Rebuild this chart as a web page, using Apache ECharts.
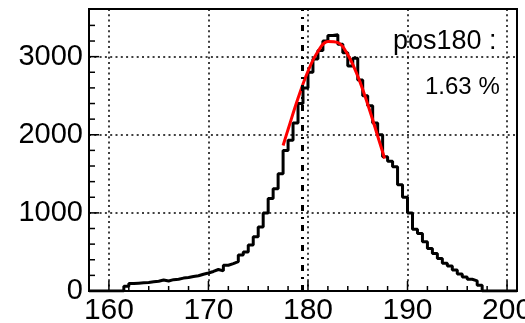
<!DOCTYPE html>
<html>
<head>
<meta charset="utf-8">
<script src="https://cdn.jsdelivr.net/npm/echarts@6/dist/echarts.min.js"></script>
<style>
html,body{margin:0;padding:0;background:#fff;}
#c{width:525px;height:323px;}
</style>
</head>
<body>
<div id="c"></div>
<script>
// Histogram: bins of width 0.5 starting at 161.5
var binStart = 161.5;
var binWidth = 0.5;
var counts = [
  60, 95, 100, 105, 110, 118, 125, 140, 128, 145,
  150, 165, 172, 185, 195, 215, 230, 250, 275, 258,
  330, 350, 375, 460, 500, 590, 695, 820, 1000, 1185,
  1310, 1500, 1800, 1930, 2150, 2400, 2600, 2800, 2970, 3080,
  3200, 3270, 3280, 3160, 3050, 2880, 2980, 2700, 2500, 2370,
  2150, 2000, 1720, 1660, 1590, 1360, 1200, 1000, 790, 735,
  630, 545, 480, 415, 355, 320, 268, 218, 178, 150,
  130, 75
];
// Red fit curve
var fitX = [177.5, 178, 179, 180, 181, 182, 183, 184, 185, 186, 187, 187.7];
var fitY = [1862, 2068, 2467, 2813, 3066, 3193, 3179, 3025, 2750, 2390, 1985, 1697];
// Axis ticks
var xMajor = [160, 170, 180, 190, 200];
var xMinor = [158, 162, 164, 166, 168, 172, 174, 176, 178, 182, 184, 186, 188, 192, 194, 196, 198];
var yMajor = [0, 1000, 2000, 3000];
var yMinor = [200, 400, 600, 800, 1200, 1400, 1600, 1800, 2200, 2400, 2600, 2800, 3200, 3400];
var xRange = [158, 201];
var yRange = [0, 3610];
var refLine = [179.4];
var textLines = ['pos180 :', '1.63 %'];

var histData = [[xRange[0], 0]];
for (var i = 0; i < counts.length; i++) {
  histData.push([binStart + i * binWidth, counts[i]]);
}
histData.push([binStart + counts.length * binWidth, 0]);
histData.push([xRange[1], 0]);

var fitData = fitX.map(function (x, i) { return [x, fitY[i]]; });

var font = 'Liberation Sans, Arial, Helvetica, sans-serif';
function plain(v) { return String(v); }

var chart = echarts.init(document.getElementById('c'), null, {renderer: 'canvas'});
var textGraphics = [{
  type: 'text', left: 393, top: 28, z: 10,
  style: {text: textLines[0], fontSize: 27, fontFamily: font, fill: '#000'}
}, {
  type: 'text', left: 425, top: 75, z: 10,
  style: {text: textLines[1], fontSize: 24, fontFamily: font, fill: '#000'}
}];
chart.setOption({
  animation: false,
  backgroundColor: '#fff',
  grid: {left: 89, right: 8, top: 9, bottom: 32, containLabel: false, outerBoundsMode: 'none',
         show: true, borderColor: '#000', borderWidth: 2, backgroundColor: 'transparent'},
  xAxis: {
    type: 'value', min: xRange[0], max: xRange[1], position: 'bottom',
    axisLine: {show: true, onZero: false, lineStyle: {color: '#000', width: 2}},
    axisTick: {show: false, customValues: xMajor},
    axisLabel: {show: true, customValues: xMajor, formatter: plain, color: '#000', fontSize: 30, fontFamily: font, margin: 5},
    splitLine: {show: true, lineStyle: {color: '#000', width: 1.5, type: [2, 3.3]}}
  },
  yAxis: {
    type: 'value', min: yRange[0], max: yRange[1], position: 'left',
    axisLine: {show: true, onZero: false, lineStyle: {color: '#000', width: 2}},
    axisTick: {show: false, customValues: yMajor},
    axisLabel: {show: true, customValues: yMajor, formatter: plain, color: '#000', fontSize: 29, fontFamily: font, margin: 6},
    splitLine: {show: true, lineStyle: {color: '#000', width: 1.5, type: [2, 3.3]}}
  },
  series: [{
    type: 'line',
    data: histData, step: 'end', showSymbol: false, symbol: 'none',
    lineStyle: {color: '#000', width: 3}, z: 3,
    markLine: {
      silent: true, symbol: 'none', label: {show: false},
      lineStyle: {color: '#000', width: 3, type: [6, 6, 2, 6]},
      data: refLine.map(function (v) { return {xAxis: v}; })
    }
  }, {
    type: 'line',
    data: fitData, smooth: 0.4, showSymbol: false, symbol: 'none',
    lineStyle: {color: '#ff0000', width: 3}, z: 4
  }],
  graphic: textGraphics
});

// Tick marks placed with the chart's own scales
var tickGraphics = [];
function addXTick(v, len) {
  var p = chart.convertToPixel({gridIndex: 0}, [v, yRange[0]]);
  tickGraphics.push({type: 'line', z: 20, silent: true,
    shape: {x1: p[0], y1: p[1], x2: p[0], y2: p[1] - len},
    style: {stroke: '#000', lineWidth: 1.5}});
}
function addYTick(v, len) {
  var p = chart.convertToPixel({gridIndex: 0}, [xRange[0], v]);
  tickGraphics.push({type: 'line', z: 20, silent: true,
    shape: {x1: p[0], y1: p[1], x2: p[0] + len, y2: p[1]},
    style: {stroke: '#000', lineWidth: 1.5}});
}
xMajor.forEach(function (v) { addXTick(v, 10); });
xMinor.forEach(function (v) { addXTick(v, 5); });
yMajor.forEach(function (v) { addYTick(v, 10); });
yMinor.forEach(function (v) { addYTick(v, 6); });
chart.setOption({graphic: textGraphics.concat(tickGraphics)});
</script>
</body>
</html>
